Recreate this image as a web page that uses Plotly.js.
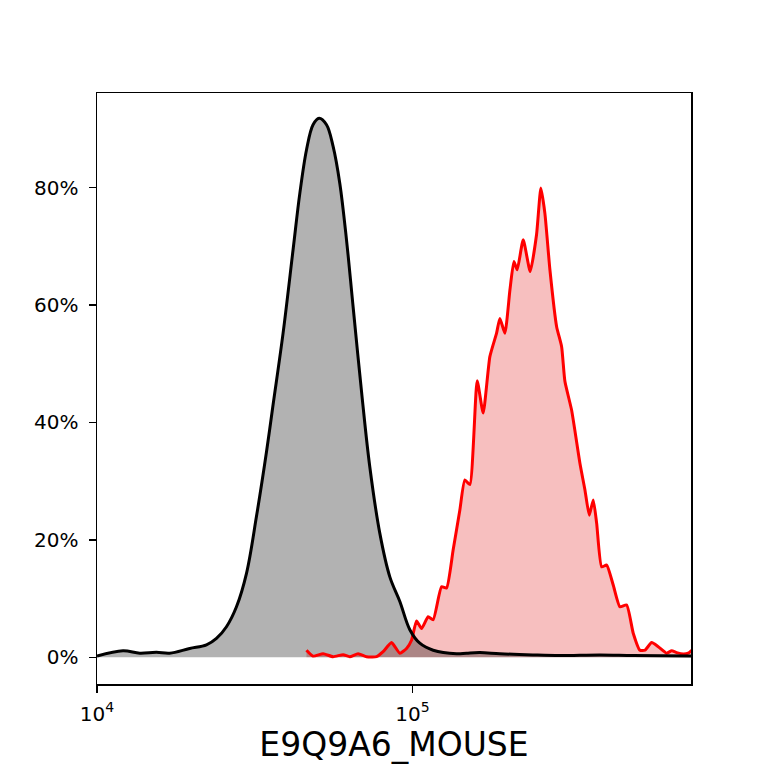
<!DOCTYPE html>
<html>
<head>
<meta charset="utf-8">
<script src="https://cdn.plot.ly/plotly-3.0.1.min.js"></script>
<style>
  html, body { margin: 0; padding: 0; background: #fff; }
  #chart { width: 768px; height: 768px; }
</style>
</head>
<body>
<div id="chart"></div>
<script>
// control sample (black / grey)
const ctrlX = [10000, 12090, 13660, 15430, 17000, 19670, 22230, 23910, 25720, 27670,
  29770, 32020, 34450, 36140, 38880, 41820, 43930, 46120, 48380, 50560,
  53380, 56010, 58820, 61760, 64810, 69300, 73180, 78770, 84730, 91150,
  98040, 105460, 116240, 137900, 148350, 163470, 189150, 240600, 293100, 392600,
  499400, 762800];
const ctrlY = [0.002, 0.011, 0.007, 0.0085, 0.007, 0.015, 0.021, 0.032, 0.052, 0.086,
  0.143, 0.24, 0.35, 0.43, 0.552, 0.694, 0.79, 0.864, 0.907, 0.918,
  0.907, 0.87, 0.807, 0.711, 0.597, 0.44, 0.325, 0.211, 0.137, 0.095,
  0.047, 0.024, 0.012, 0.006, 0.007, 0.008, 0.006, 0.004, 0.003, 0.004,
  0.003, 0.002];

// stained sample (red)
const stainX = [46120, 48380, 52080, 56010, 60260, 63260, 67210, 71480, 76890, 80680,
  85800, 91150, 95720, 99260, 102970, 106780, 112060, 116240, 123590, 128190,
  134520, 141250, 146490, 151940, 160250, 167420, 175830, 184630, 189150, 196210,
  203490, 209520, 214600, 224250, 236000, 247200, 255100, 262700, 272500, 286200,
  296800, 304000, 319200, 339300, 351900, 363100, 373900, 383300, 397500, 412300,
  432500, 454200, 477000, 500500, 525600, 545100, 572600, 600800, 638700, 662500,
  687100, 721100, 747800, 766700];
const stainY = [0.012, 0.002, 0.006, 0.001, 0.0045, 0.001, 0.006, 0.001, 0.001, 0.0095,
  0.025, 0.007, 0.015, 0.029, 0.062, 0.049, 0.069, 0.064, 0.12, 0.118,
  0.183, 0.251, 0.302, 0.294, 0.471, 0.416, 0.512, 0.552, 0.577, 0.552,
  0.625, 0.674, 0.66, 0.711, 0.657, 0.72, 0.799, 0.756, 0.66, 0.563,
  0.529, 0.47, 0.421, 0.33, 0.285, 0.242, 0.268, 0.228, 0.154, 0.157,
  0.123, 0.086, 0.089, 0.041, 0.012, 0.012, 0.025, 0.018, 0.007, 0.011,
  0.008, 0.0056, 0.007, 0.012];

const xTicks = [1e4, 1e5];
const xTickText = ['10<sup>4</sup>', '10<sup>5</sup>'];
const yTicks = [0, 0.2, 0.4, 0.6, 0.8];

var data = [
  { x: stainX, y: stainY, type: 'scatter', mode: 'lines', fill: 'tozeroy',
    fillcolor: 'rgba(240,128,128,0.5)', line: { width: 0, shape: 'spline', smoothing: 0.5 } },
  { x: ctrlX, y: ctrlY, type: 'scatter', mode: 'lines', fill: 'tozeroy',
    fillcolor: 'rgba(0,0,0,0.3)', line: { width: 0, shape: 'spline', smoothing: 1 } },
  { x: stainX, y: stainY, type: 'scatter', mode: 'lines',
    line: { color: '#ff0000', width: 3, shape: 'spline', smoothing: 0.5 } },
  { x: ctrlX, y: ctrlY, type: 'scatter', mode: 'lines',
    line: { color: '#000000', width: 3, shape: 'spline', smoothing: 1 } },
];

var layout = {
  width: 768,
  height: 768,
  showlegend: false,
  hovermode: false,
  paper_bgcolor: '#fff',
  plot_bgcolor: '#fff',
  font: { family: 'DejaVu Sans', color: '#000', size: 20 },
  margin: { l: 97, r: 77, t: 93, b: 84 },
  xaxis: {
    type: 'log',
    range: [4, 5.8825],
    tickvals: xTicks,
    ticktext: xTickText,
    ticks: 'outside', ticklen: 7, tickwidth: 1.5, tickcolor: '#000',
    ticklabelstandoff: 4,
    showgrid: false, zeroline: false,
    showline: true, mirror: true, linecolor: '#000', linewidth: 1.5,
    tickfont: { size: 20 },
    title: { text: 'E9Q9A6_MOUSE', font: { size: 33 }, standoff: 8 },
  },
  yaxis: {
    range: [-0.0455, 0.961],
    tickvals: yTicks,
    tickformat: '.0%',
    ticks: 'outside', ticklen: 7, tickwidth: 1.5, tickcolor: '#000',
    ticklabelstandoff: 6,
    showgrid: false, zeroline: false,
    showline: true, mirror: true, linecolor: '#000', linewidth: 1.5,
    tickfont: { size: 20 },
  },
};

Plotly.newPlot('chart', data, layout, { displayModeBar: false, staticPlot: true });
</script>
</body>
</html>
